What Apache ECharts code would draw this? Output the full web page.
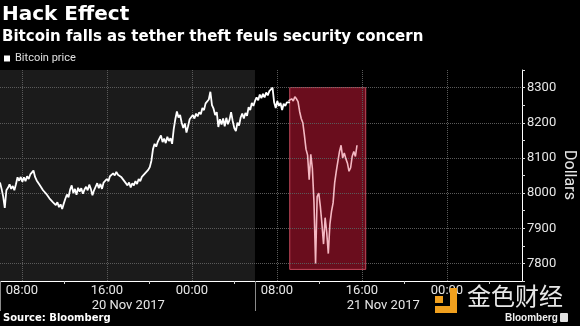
<!DOCTYPE html>
<html><head><meta charset="utf-8">
<script src="https://cdn.jsdelivr.net/npm/echarts@6/dist/echarts.min.js"></script>
<style>html,body{margin:0;padding:0;background:#000;}#c{width:580px;height:326px;}</style>
</head><body><div id="c"></div>
<script>
const titleText = 'Hack Effect';
const subtitleText = 'Bitcoin falls as tether theft feuls security concern';
const sourceText = 'Source: Bloomberg';
const seriesName = 'Bitcoin price';
const yAxisName = 'Dollars';
const watermarkText = '金色财经';
const brandText = 'Bloomberg';

// hours counted from 20 Nov 2017 00:00
const axisStartHour = 5.93;
const axisEndHour = 55.06;
const sampleStartHour = 5.93;
const sampleStepHours = 0.15;

const prices = [
  8030,8012,7990,7958,8008,8015,8025,8012,8020,8008,
  8025,8045,8035,8046,8032,8045,8034,8048,8040,8053,
  8048,8064,8046,8036,8038,8022,8024,8008,8010,7998,
  8002,7985,7990,7975,7980,7966,7974,7960,7968,7955,
  7970,7984,7996,7988,8010,8022,8000,8012,7995,8015,
  8004,8014,7998,8010,8018,8008,8024,8012,7994,8008,
  8018,8028,8014,8026,8012,8030,8028,8040,8034,8048,
  8044,8056,8050,8060,8052,8057,8046,8050,8034,8038,
  8022,8030,8016,8028,8022,8034,8026,8040,8034,8046,
  8044,8056,8052,8066,8074,8092,8125,8140,8132,8146,
  8150,8164,8145,8155,8142,8160,8148,8156,8140,8182,
  8210,8232,8215,8222,8200,8185,8198,8172,8190,8210,
  8205,8222,8212,8226,8218,8230,8224,8242,8236,8255,
  8250,8266,8288,8250,8240,8222,8230,8188,8210,8195,
  8212,8190,8214,8196,8208,8230,8205,8185,8176,8200,
  8192,8215,8226,8212,8228,8220,8244,8236,8256,8248,
  8262,8272,8264,8280,8270,8282,8272,8286,8278,8290,
  8294,8300,8258,8242,8262,8248,8256,8236,8254,8248,
  8258,8262,8258,8268,8262,8274,8268,8260,8232,8212,
  8200,8165,8125,8108,8038,8110,8070,7975,7800,7990,
  8000,7962,7912,7855,7930,7888,7828,7912,7948,7972,
  8030,8062,8090,8118,8136,8100,8114,8098,8085,8062,
  8072,8105,8118,8104,8136
];

const xTickHours = [8, 16, 24, 32, 40, 48];
const xTickLabels = ['08:00', '16:00', '00:00', '08:00', '16:00', '00:00'];
const xMinorTickHours = [12, 20, 28, 36, 44, 52];
const dateHours = [18, 42];
const dateLabels = ['20 Nov 2017', '21 Nov 2017'];
const daySeparatorHours = [5.93, 29.93];
const previousDay = [5.93, 29.93];
const yMin = 7750, yMax = 8350, yStep = 50;
const yGridValues = [7800, 7900, 8000, 8100, 8200, 8300];
const highlightHours = [33.2, 40.35];
const highlightPrices = [8300, 7783];

const times = prices.map((_, i) => sampleStartHour + i * sampleStepHours);
const seriesData = times.map((t, i) => [t, prices[i]]);
const firstIn = seriesData.findIndex(d => d[0] >= highlightHours[0]);
const beforeData = seriesData.slice(0, firstIn + 1);
const duringData = seriesData.slice(firstIn - 1);
const pick = (vals, labels) => v => {
  const k = vals.findIndex(h => Math.abs(h - v) < 0.01);
  return k < 0 ? '' : labels[k];
};

const chart = echarts.init(document.getElementById('c'), null, {renderer: 'canvas'});
chart.setOption({
  backgroundColor: '#000',
  animation: false,
  title: [
    {text: titleText, left: 2, top: 5, padding: 0,
     textStyle: {color: '#fff', fontSize: 20, fontWeight: 'bold', fontFamily: 'DejaVu Sans'}},
    {text: subtitleText, left: 2, top: 30, padding: 0,
     textStyle: {color: '#fff', fontSize: 15, fontWeight: 'bold', fontFamily: 'DejaVu Sans'}},
    {text: sourceText, left: 3, top: 313, padding: 0,
     textStyle: {color: '#fff', fontSize: 10, fontWeight: 'bold', fontFamily: 'DejaVu Sans'}}
  ],
  legend: {
    data: [seriesName], left: 4, top: 53, padding: 0, icon: 'rect', itemWidth: 6, itemHeight: 6,
    textStyle: {color: '#e0e0e0', fontSize: 11, fontFamily: 'Roboto'}
  },
  grid: {left: 0, right: 58, top: 70, bottom: 45, containLabel: false, outerBoundsMode: 'none'},
  xAxis: [
    {type: 'value', min: axisStartHour, max: axisEndHour, position: 'bottom',
     axisLine: {show: true, onZero: false, lineStyle: {color: '#fff', width: 1}},
     axisTick: {show: true, customValues: xMinorTickHours, length: 3, lineStyle: {color: '#cfcfcf'}},
     axisLabel: {show: true, customValues: xTickHours, formatter: pick(xTickHours, xTickLabels),
                 color: '#e6e6e6', fontSize: 13, fontFamily: 'Roboto', margin: 3},
     splitLine: {show: false}},
    {type: 'value', min: axisStartHour, max: axisEndHour, position: 'bottom',
     axisLine: {show: false, onZero: false},
     axisTick: {show: true, customValues: daySeparatorHours, length: 30, lineStyle: {color: '#8a8a8a'}},
     axisLabel: {show: true, customValues: dateHours, formatter: pick(dateHours, dateLabels),
                 color: '#e6e6e6', fontSize: 13, fontFamily: 'Roboto', margin: 18},
     splitLine: {show: false}}
  ],
  yAxis: {
    type: 'value', position: 'right', min: yMin, max: yMax, interval: yStep,
    axisLine: {show: true, onZero: false, lineStyle: {color: '#fff', width: 1}},
    axisTick: {show: true, length: 3, lineStyle: {color: '#dcdcdc'}},
    axisLabel: {formatter: v => (v % 100 === 0 ? String(v) : ''), color: '#e6e6e6',
                fontSize: 13, fontFamily: 'Roboto', margin: 5},
    splitLine: {show: false}
  },
  series: [{
    name: seriesName, type: 'line', data: beforeData, symbol: 'none', showSymbol: false,
    lineStyle: {width: 1.8, color: '#fff'}, itemStyle: {color: '#fff'}, z: 5,
    emphasis: {disabled: true},
    markArea: {
      silent: true, z: 1,
      data: [
        [{xAxis: previousDay[0], itemStyle: {color: '#1b1b1b'}}, {xAxis: previousDay[1]}],
        [{xAxis: highlightHours[0], yAxis: highlightPrices[0],
          itemStyle: {color: '#6a0d1d', borderColor: '#c2485b', borderWidth: 1}},
         {xAxis: highlightHours[1], yAxis: highlightPrices[1]}]
      ]
    },
    markLine: {
      silent: true, z: 2, symbol: ['none', 'none'], label: {show: false},
      emphasis: {disabled: true},
      lineStyle: {color: '#5a5a5a', type: 'dotted', width: 1},
      data: xTickHours.map(h => ({xAxis: h})).concat(yGridValues.map(v => ({yAxis: v})))
    }
  }, {
    name: seriesName + ' (highlight)', type: 'line', data: duringData, symbol: 'none', showSymbol: false,
    lineStyle: {width: 1.6, color: '#f4b8c2'}, itemStyle: {color: '#f4b8c2'}, z: 5,
    emphasis: {disabled: true}
  }],
  graphic: [
    {type: 'text', z: 100, x: 569, y: 175, rotation: -Math.PI / 2,
     style: {text: yAxisName, fill: '#e6e6e6', fontSize: 16, fontFamily: 'Roboto',
             align: 'center', verticalAlign: 'middle'}},
    {type: 'rect', z: 100, shape: {x: 435, y: 296, width: 8, height: 7}, style: {fill: '#f0a01e'}},
    {type: 'rect', z: 100, shape: {x: 450, y: 288, width: 7, height: 25}, style: {fill: '#f0a01e'}},
    {type: 'rect', z: 100, shape: {x: 435, y: 306, width: 22, height: 7}, style: {fill: '#f0a01e'}},
    {type: 'text', z: 100, left: 467, top: 284,
     style: {text: watermarkText, fill: '#e8e8e8', fontSize: 24, fontFamily: 'Noto Sans CJK SC'}},
    {type: 'text', z: 100, left: 505, top: 313,
     style: {text: brandText, fill: '#f0f0f0', fontSize: 10, fontWeight: 'bold', fontFamily: 'Liberation Sans'}},
    {type: 'rect', z: 100, shape: {x: 560, y: 313, width: 8, height: 9, r: 1}, style: {fill: '#e0e0e0'}}
  ]
});
</script></body></html>
